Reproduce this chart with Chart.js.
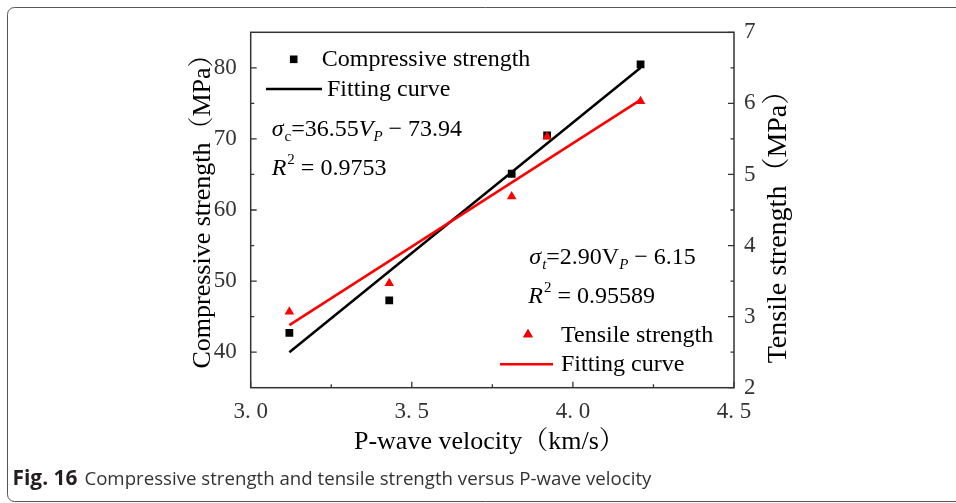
<!DOCTYPE html>
<html><head><meta charset="utf-8">
<script src="https://cdn.jsdelivr.net/npm/chart.js@4"></script>
<style>html,body{margin:0;padding:0;background:#fff}canvas{display:block}</style>
</head><body>
<canvas id="c" width="956" height="503"></canvas>
<script>
const velocity = [3.12, 3.43, 3.81, 3.92, 4.21];
const compressiveStrength = [42.7, 47.3, 65.1, 70.5, 80.5];
const tensileStrength = [3.07, 3.47, 4.69, 5.53, 6.03];
const compressiveFitX = [3.12, 4.21];
const compressiveFitY = [40.0, 80.0];
const tensileFitX = [3.12, 4.21];
const tensileFitY = [2.88, 6.05];
const xTickValues = [3.0, 3.5, 4.0, 4.5];
const xTickLabels = ['3. 0', '3. 5', '4. 0', '4. 5'];
const xMinorTicks = [3.25, 3.75, 4.25];
const yTickValues = [40, 50, 60, 70, 80];
const yMinorTicks = [45, 55, 65, 75];
const y2TickValues = [2, 3, 4, 5, 6, 7];
const y2MinorTicks = [2.5, 3.5, 4.5, 5.5, 6.5];

const SERIF = "'Liberation Serif', 'Times New Roman', 'Noto Serif CJK SC', 'Noto Sans CJK SC', serif";
const SANS = "'Open Sans', 'Noto Sans', sans-serif";

function txt(ctx, s, x, y, size, style, color) {
  ctx.font = (style ? style + ' ' : '') + size + 'px ' + SERIF;
  ctx.fillStyle = color || '#000';
  ctx.textAlign = 'left';
  ctx.textBaseline = 'alphabetic';
  ctx.fillText(s, x, y);
  return x + ctx.measureText(s).width;
}

const deco = {
  id: 'deco',
  beforeDraw(chart) {
    const ctx = chart.ctx;
    ctx.save();
    ctx.fillStyle = '#fff';
    ctx.fillRect(0, 0, chart.width, chart.height);
    ctx.strokeStyle = '#555';
    ctx.lineWidth = 1;
    ctx.beginPath();
    ctx.moveTo(956, 7.5);
    ctx.lineTo(15, 7.5);
    ctx.arcTo(7.5, 7.5, 7.5, 15, 7);
    ctx.lineTo(7.5, 494);
    ctx.arcTo(7.5, 501.5, 15, 501.5, 7);
    ctx.lineTo(956, 501.5);
    ctx.stroke();
    ctx.restore();
  },
  afterDraw(chart) {
    const ctx = chart.ctx;
    const a = chart.chartArea;
    const sx = chart.scales.x, sy = chart.scales.y, sy2 = chart.scales.y2;
    ctx.save();
    ctx.strokeStyle = '#333';
    ctx.lineWidth = 1.5;
    ctx.strokeRect(a.left, a.top, a.right - a.left, a.bottom - a.top);
    ctx.lineWidth = 1.3;
    ctx.beginPath();
    xTickValues.forEach(v => { const p = sx.getPixelForValue(v); ctx.moveTo(p, a.bottom); ctx.lineTo(p, a.bottom - 6); });
    xMinorTicks.forEach(v => { const p = sx.getPixelForValue(v); ctx.moveTo(p, a.bottom); ctx.lineTo(p, a.bottom - 3.5); });
    yTickValues.forEach(v => { const p = sy.getPixelForValue(v); ctx.moveTo(a.left, p); ctx.lineTo(a.left + 6, p); });
    yMinorTicks.forEach(v => { const p = sy.getPixelForValue(v); ctx.moveTo(a.left, p); ctx.lineTo(a.left + 3.5, p); });
    y2TickValues.forEach(v => { const p = sy2.getPixelForValue(v); ctx.moveTo(a.right, p); ctx.lineTo(a.right - 6, p); });
    y2MinorTicks.forEach(v => { const p = sy2.getPixelForValue(v); ctx.moveTo(a.right, p); ctx.lineTo(a.right - 3.5, p); });
    ctx.stroke();

    ctx.fillStyle = '#000';
    ctx.textAlign = 'center';
    ctx.textBaseline = 'middle';
    ctx.font = '26px ' + SERIF;
    ctx.save();
    ctx.translate(203, 205);
    ctx.rotate(-Math.PI / 2);
    ctx.fillText('Compressive strength（MPa）', 0, 0);
    ctx.restore();
    ctx.save();
    ctx.font = '28px ' + SERIF;
    ctx.translate(779, 220);
    ctx.rotate(-Math.PI / 2);
    ctx.fillText('Tensile strength（MPa）', 0, 0);
    ctx.restore();
    ctx.textBaseline = 'alphabetic';
    ctx.font = '26px ' + SERIF;
    ctx.fillText('P-wave velocity（km/s）', (a.left + a.right) / 2 - 3, 449);

    ctx.fillStyle = '#000';
    ctx.fillRect(293.7 - 3.8, 59.3 - 3.8, 7.6, 7.6);
    txt(ctx, 'Compressive strength', 321.7, 66, 24);
    ctx.strokeStyle = '#000';
    ctx.lineWidth = 2.5;
    ctx.beginPath(); ctx.moveTo(266, 89); ctx.lineTo(322, 89); ctx.stroke();
    txt(ctx, 'Fitting curve', 327, 96, 24);

    let x = txt(ctx, 'σ', 271.7, 136, 24, 'italic');
    x = txt(ctx, 'c', x + 1, 141, 15);
    x = txt(ctx, '=36.55', x, 136, 24);
    x = txt(ctx, 'V', x, 136, 24, 'italic');
    x = txt(ctx, 'P', x, 141, 15, 'italic');
    txt(ctx, ' − 73.94', x, 136, 24);
    x = txt(ctx, 'R', 271.7, 175, 24, 'italic');
    x = txt(ctx, '2', x + 1, 164, 15);
    txt(ctx, ' = 0.9753', x, 175, 24);

    x = txt(ctx, 'σ', 529.3, 264.3, 24, 'italic');
    x = txt(ctx, 't', x + 1, 269.3, 15, 'italic');
    x = txt(ctx, '=2.90V', x, 264.3, 24);
    x = txt(ctx, 'P', x, 269.3, 15, 'italic');
    txt(ctx, ' − 6.15', x, 264.3, 24);
    x = txt(ctx, 'R', 528.3, 303.3, 24, 'italic');
    x = txt(ctx, '2', x + 1, 292.3, 15);
    txt(ctx, ' = 0.95589', x, 303.3, 24);

    Chart.helpers.drawPoint(ctx, { pointStyle: 'triangle', radius: 5.5, borderWidth: 0 }, 528, 334.5);
    ctx.fillStyle = '#ff0000';
    ctx.fill();
    txt(ctx, 'Tensile strength', 561, 341.7, 24);
    ctx.strokeStyle = '#ff0000';
    ctx.lineWidth = 2.5;
    ctx.beginPath(); ctx.moveTo(500, 364.3); ctx.lineTo(553, 364.3); ctx.stroke();
    txt(ctx, 'Fitting curve', 561, 371, 24);

    ctx.fillStyle = '#231f20';
    ctx.textAlign = 'left';
    ctx.textBaseline = 'alphabetic';
    ctx.font = 'bold 17px ' + SANS;
    let w = ctx.measureText('Fig. 16').width;
    let fs = 17 * 65 / w;
    ctx.font = 'bold ' + fs.toFixed(2) + 'px ' + SANS;
    ctx.fillText('Fig. 16', 12.5, 485);
    const cap = 'Compressive strength and tensile strength versus P-wave velocity';
    ctx.fillStyle = '#333';
    ctx.font = '17px ' + SANS;
    w = ctx.measureText(cap).width;
    fs = 17 * 567 / w;
    ctx.font = fs.toFixed(2) + 'px ' + SANS;
    ctx.fillText(cap, 84.4, 485);
    ctx.restore();
  }
};

const tickFont = { family: SERIF, size: 23 };

new Chart(document.getElementById('c'), {
  type: 'scatter',
  data: {
    datasets: [
      {
        label: 'Fitting curve (compressive)',
        data: compressiveFitX.map((v, i) => ({ x: v, y: compressiveFitY[i] })),
        showLine: true, borderColor: '#000', borderWidth: 2.5, pointRadius: 0,
        yAxisID: 'y', order: 4
      },
      {
        label: 'Fitting curve (tensile)',
        data: tensileFitX.map((v, i) => ({ x: v, y: tensileFitY[i] })),
        showLine: true, borderColor: '#ff0000', borderWidth: 2.5, pointRadius: 0,
        yAxisID: 'y2', order: 3
      },
      {
        label: 'Compressive strength',
        data: velocity.map((v, i) => ({ x: v, y: compressiveStrength[i] })),
        pointStyle: 'rect', pointRadius: 5.5, backgroundColor: '#000', borderColor: '#000', borderWidth: 0,
        yAxisID: 'y', order: 2
      },
      {
        label: 'Tensile strength',
        data: velocity.map((v, i) => ({ x: v, y: tensileStrength[i] })),
        pointStyle: 'triangle', pointRadius: 5.5, backgroundColor: '#ff0000', borderColor: '#ff0000', borderWidth: 0,
        yAxisID: 'y2', order: 1
      }
    ]
  },
  options: {
    responsive: false,
    animation: false,
    devicePixelRatio: 1,
    layout: { padding: { top: 32.3, left: 0, right: 0, bottom: 0 } },
    plugins: { legend: { display: false }, tooltip: { enabled: false } },
    scales: {
      x: {
        type: 'linear', position: 'bottom', min: 3.0, max: 4.5,
        afterBuildTicks: s => { s.ticks = xTickValues.map(v => ({ value: v })); },
        ticks: { callback: (v, i) => xTickLabels[i], font: tickFont, color: '#333', padding: 10, maxRotation: 0, autoSkip: false },
        grid: { display: false, drawTicks: false },
        border: { display: false },
        afterFit: s => { s.height = 115.3; }
      },
      y: {
        type: 'linear', position: 'left', min: 35, max: 85,
        afterBuildTicks: s => { s.ticks = yTickValues.map(v => ({ value: v })); },
        ticks: { callback: (v, i) => String(yTickValues[i]), font: tickFont, color: '#333', padding: 14 },
        grid: { display: false, drawTicks: false },
        border: { display: false },
        afterFit: s => { s.width = 250.7; }
      },
      y2: {
        type: 'linear', position: 'right', min: 2, max: 7,
        afterBuildTicks: s => { s.ticks = y2TickValues.map(v => ({ value: v })); },
        ticks: { callback: (v, i) => String(y2TickValues[i]), font: tickFont, color: '#333', padding: 10 },
        grid: { display: false, drawTicks: false },
        border: { display: false },
        afterFit: s => { s.width = 222; }
      }
    }
  },
  plugins: [deco]
});
</script>
</body></html>
